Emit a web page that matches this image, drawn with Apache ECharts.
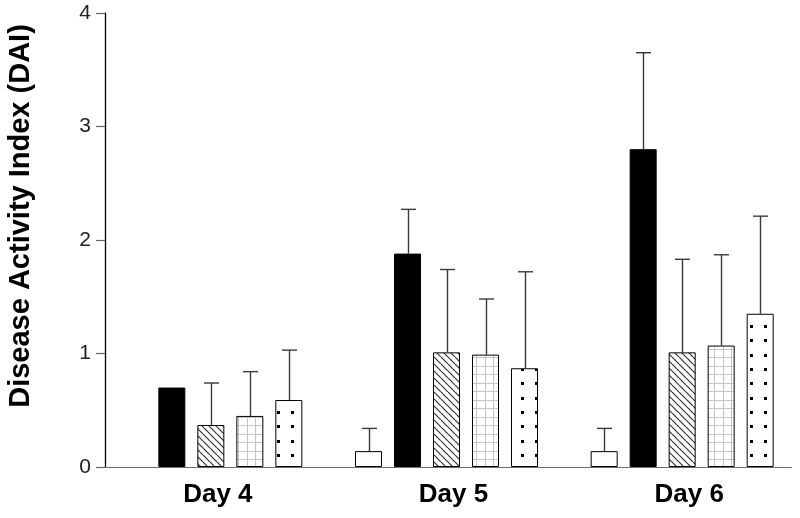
<!DOCTYPE html>
<html>
<head>
<meta charset="utf-8">
<script src="https://cdn.jsdelivr.net/npm/echarts@6/dist/echarts.min.js"></script>
<style>
html,body{margin:0;padding:0;background:#fff;}
#chart{width:800px;height:518px;}
</style>
</head>
<body>
<div id="chart"></div>
<script>
// ---- data ----
const categories = ['Day 4', 'Day 5', 'Day 6'];
const yTickMin = 0, yTickMax = 4, yTickStep = 1;
const yAxisTitle = 'Disease Activity Index (DAI)';

const group1Mean = [null, 0.14, 0.14];
const group1SD   = [null, 0.20, 0.20];
const group2Mean = [0.70, 1.88, 2.80];
const group2SD   = [null, 0.39, 0.85];
const group3Mean = [0.37, 1.01, 1.01];
const group3SD   = [0.37, 0.73, 0.82];
const group4Mean = [0.45, 0.99, 1.07];
const group4SD   = [0.39, 0.49, 0.80];
const group5Mean = [0.59, 0.87, 1.35];
const group5SD   = [0.44, 0.85, 0.86];

// ---- patterns ----
function hatchPattern() {
  const s = 7, c = document.createElement('canvas');
  c.width = s; c.height = s;
  const g = c.getContext('2d');
  g.fillStyle = '#fff'; g.fillRect(0, 0, s, s);
  g.strokeStyle = '#333'; g.lineWidth = 1.2;
  [[-s, 0], [0, 0], [s, 0]].forEach(function (o) {
    g.beginPath(); g.moveTo(o[0], o[1]); g.lineTo(o[0] + s, o[1] + s); g.stroke();
  });
  return c;
}
function gridPattern() {
  const s = 17, c = document.createElement('canvas');
  c.width = s; c.height = s;
  const g = c.getContext('2d');
  g.fillStyle = '#fff'; g.fillRect(0, 0, s, s);
  g.strokeStyle = '#c4c4c4'; g.lineWidth = 1;
  [0.5, 9.5].forEach(function (p) {
    g.beginPath(); g.moveTo(p, 0); g.lineTo(p, s); g.stroke();
    g.beginPath(); g.moveTo(0, p); g.lineTo(s, p); g.stroke();
  });
  return c;
}
function dotPattern() {
  const s = 43, c = document.createElement('canvas');
  c.width = s; c.height = s;
  const g = c.getContext('2d');
  g.fillStyle = '#fff'; g.fillRect(0, 0, s, s);
  g.fillStyle = '#000';
  [5, 19, 33].forEach(function (x) {
    [10, 24, 38].forEach(function (y) { g.fillRect(x, y, 3, 3); });
  });
  return c;
}

const barW = 27, gapRatio = 12 / 27;
const fills = [
  '#ffffff',
  '#000000',
  { image: hatchPattern(), repeat: 'repeat' },
  { image: gridPattern(), repeat: 'repeat' },
  { image: dotPattern(), repeat: 'repeat' }
];
const means = [group1Mean, group2Mean, group3Mean, group4Mean, group5Mean];
const sds = [group1SD, group2SD, group3SD, group4SD, group5SD];
const names = ['Group 1', 'Group 2', 'Group 3', 'Group 4', 'Group 5'];

const series = [];
means.forEach(function (m, i) {
  series.push({
    type: 'bar', name: names[i], xAxisIndex: 1, yAxisIndex: 1,
    data: m.map(function (v) { return v === null ? '-' : v; }),
    barWidth: barW, barGap: (gapRatio * 100) + '%',
    itemStyle: { color: fills[i], borderColor: '#000', borderWidth: 1 },
    z: 3
  });
});
means.forEach(function (m, i) {
  const d = [];
  m.forEach(function (v, k) { if (v !== null && sds[i][k] !== null) d.push([k, v, sds[i][k]]); });
  const offset = (i - 2) * barW * (1 + gapRatio);
  series.push({
    type: 'custom', xAxisIndex: 1, yAxisIndex: 1, z: 2,
    data: d,
    renderItem: function (params, api) {
      const b = api.coord([api.value(0), api.value(1)]);
      const t = api.coord([api.value(0), api.value(1) + api.value(2)]);
      const cx = Math.round(b[0] + offset) + 0.5;
      const st = { stroke: '#3a3a3a', lineWidth: 1.4 };
      return {
        type: 'group', children: [
          { type: 'line', shape: { x1: cx, y1: b[1], x2: cx, y2: t[1] }, style: st },
          { type: 'line', shape: { x1: cx - 7.5, y1: t[1], x2: cx + 7.5, y2: t[1] }, style: st }
        ]
      };
    }
  });
});

const chart = echarts.init(document.getElementById('chart'), null, { renderer: 'canvas' });
chart.setOption({
  animation: false,
  backgroundColor: '#fff',
  grid: [
    { left: 105, top: 13, width: 686, height: 454 },
    { left: 93, top: 13, width: 708, height: 454 }
  ],
  xAxis: [
    { type: 'value', gridIndex: 0, min: 0, max: 1, position: 'bottom',
      axisLine: { show: true, lineStyle: { color: '#000', width: 1.2 } },
      axisTick: { show: false }, axisLabel: { show: false }, splitLine: { show: false } },
    { type: 'category', gridIndex: 1, data: categories,
      axisLine: { show: false }, axisTick: { show: false }, splitLine: { show: false },
      axisLabel: { fontSize: 26, fontWeight: 'bold', color: '#000', fontFamily: 'Liberation Sans',
                   margin: 15, padding: [0, 0, 0, 14] } },
    { type: 'value', gridIndex: 0, min: 0, max: 1, position: 'top',
      axisLine: { show: true, lineStyle: { color: '#6e6e6e', width: 1.2 } },
      axisTick: { show: false }, axisLabel: { show: false }, splitLine: { show: false } }
  ],
  yAxis: [
    { type: 'value', gridIndex: 0, min: yTickMin, max: yTickMax, interval: yTickStep, position: 'left',
      axisLine: { show: true, lineStyle: { color: '#666', width: 1.2 } },
      axisTick: { show: true, length: 9, lineStyle: { color: '#666', width: 1.2 } },
      axisLabel: { fontSize: 21, color: '#222', fontFamily: 'Liberation Sans', margin: 14 },
      splitLine: { show: false } },
    { type: 'value', gridIndex: 1, min: yTickMin, max: yTickMax, interval: yTickStep, show: false },
    { type: 'value', gridIndex: 0, min: yTickMin, max: yTickMax, position: 'right',
      axisLine: { show: true, lineStyle: { color: '#000', width: 1.2 } },
      axisTick: { show: false }, axisLabel: { show: false }, splitLine: { show: false } }
  ],
  graphic: [
    { type: 'text', x: 21, y: 216, rotation: Math.PI / 2,
      style: { text: yAxisTitle, fontSize: 29, fontWeight: 'bold', fontFamily: 'Liberation Sans',
               fill: '#000', textAlign: 'center', textVerticalAlign: 'middle' } }
  ],
  series: series
});
</script>
</body>
</html>
